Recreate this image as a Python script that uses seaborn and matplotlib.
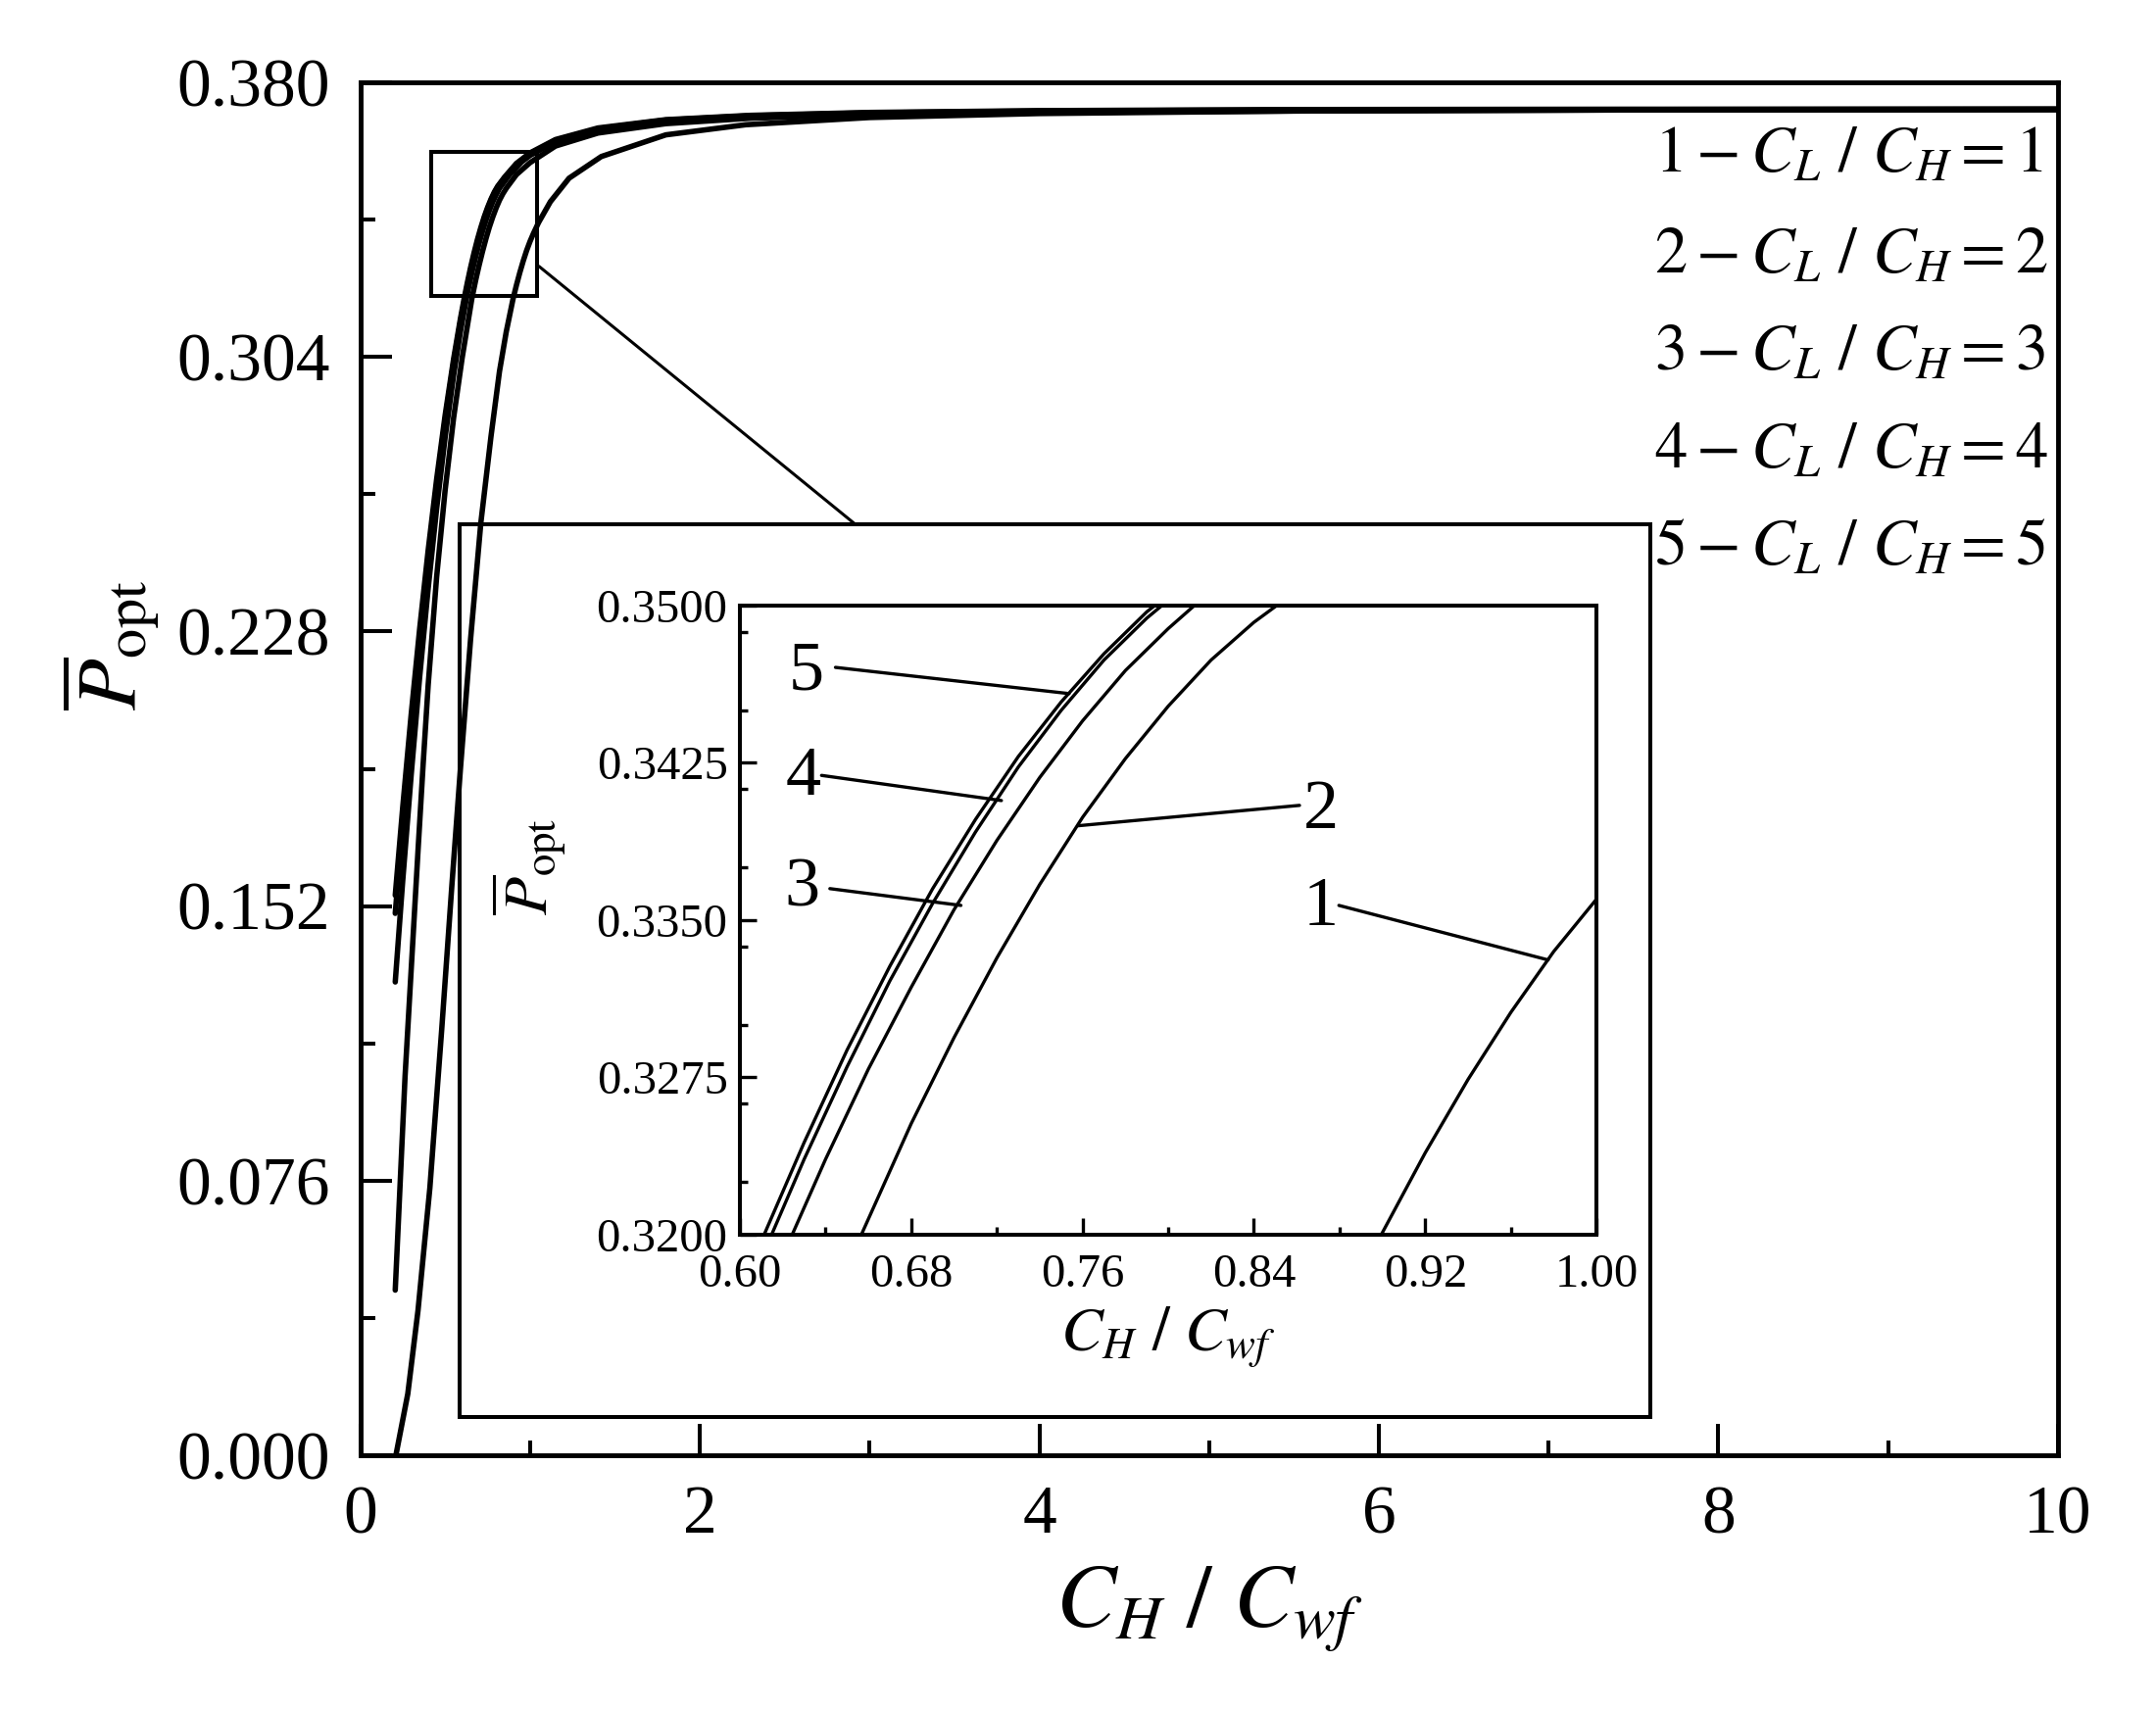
import numpy as np
import pandas as pd
import seaborn as sns
import matplotlib
matplotlib.use('Agg')
import matplotlib.pyplot as plt
from matplotlib.patches import Rectangle
from matplotlib.ticker import MultipleLocator

# values: x = C_H/C_wf, y = P_opt, one curve per C_L/C_H
ratios = [1, 2, 3, 4, 5]

x1 = [0.21, 0.28, 0.34, 0.41, 0.48, 0.54, 0.59, 0.65, 0.71, 0.77, 0.82, 0.86, 0.8995, 0.92, 0.94,
      0.96, 0.98, 1.00, 1.02, 1.05, 1.12, 1.23, 1.42, 1.80, 2.27, 3.00, 4.00, 5.50, 7.50, 10.0]
y1 = [0.000, 0.017, 0.040, 0.074, 0.118, 0.158, 0.190, 0.226, 0.258, 0.282, 0.300, 0.311, 0.3200,
      0.3239, 0.3274, 0.3306, 0.3335, 0.3360, 0.3382, 0.3412, 0.3470, 0.3535, 0.3595, 0.3655,
      0.3683, 0.3703, 0.3714, 0.3721, 0.3724, 0.3725]

x2 = [0.206, 0.264, 0.341, 0.37, 0.40, 0.45, 0.50, 0.55, 0.60, 0.6567, 0.68, 0.70, 0.72, 0.74,
      0.76, 0.78, 0.80, 0.82, 0.84, 0.86, 0.92, 1.00, 1.15, 1.40, 1.80, 2.30, 3.00, 4.00, 5.50,
      7.50, 10.0]
y2 = [0.0457, 0.105, 0.168, 0.191, 0.2132, 0.2432, 0.2672, 0.2872, 0.3037, 0.3200, 0.3253, 0.3294,
      0.3332, 0.3367, 0.3399, 0.3427, 0.3452, 0.3474, 0.3492, 0.3507, 0.3545, 0.3578, 0.3624,
      0.3660, 0.3686, 0.3701, 0.3711, 0.3717, 0.3721, 0.3724, 0.3725]

x3 = [0.206, 0.25, 0.30, 0.35, 0.40, 0.45, 0.50, 0.55, 0.59, 0.6244, 0.64, 0.66, 0.68, 0.70, 0.72,
      0.74, 0.76, 0.78, 0.80, 0.82, 0.88, 0.95, 1.00, 1.15, 1.40, 1.80, 2.30, 3.00, 4.00, 5.50,
      7.50, 10.0]
y3 = [0.131, 0.1590, 0.1884, 0.2155, 0.2400, 0.2621, 0.2818, 0.2990, 0.3110, 0.3200, 0.3236,
      0.3279, 0.3318, 0.3355, 0.3388, 0.3418, 0.3445, 0.3469, 0.3489, 0.3507, 0.3545, 0.3580,
      0.3598, 0.3636, 0.3668, 0.3693, 0.3706, 0.3714, 0.3720, 0.3723, 0.3725, 0.3726]

x4 = [0.206, 0.25, 0.30, 0.35, 0.40, 0.45, 0.50, 0.55, 0.59, 0.6148, 0.63, 0.65, 0.67, 0.69, 0.71,
      0.73, 0.75, 0.77, 0.79, 0.81, 0.85, 0.92, 1.00, 1.15, 1.40, 1.80, 2.30, 3.00, 4.00, 5.50,
      7.50, 10.0]
y4 = [0.150, 0.1751, 0.2016, 0.2260, 0.2483, 0.2685, 0.2866, 0.3025, 0.3138, 0.3200, 0.3236,
      0.3280, 0.3321, 0.3358, 0.3392, 0.3423, 0.3450, 0.3474, 0.3494, 0.3511, 0.3536, 0.3574,
      0.3603, 0.3640, 0.3672, 0.3696, 0.3708, 0.3716, 0.3721, 0.3724, 0.3725, 0.3726]

x5 = [0.206, 0.25, 0.30, 0.35, 0.40, 0.45, 0.50, 0.55, 0.59, 0.6113, 0.63, 0.65, 0.67, 0.69, 0.71,
      0.73, 0.75, 0.77, 0.79, 0.81, 0.85, 0.92, 1.00, 1.15, 1.40, 1.80, 2.30, 3.00, 4.00, 5.50,
      7.50, 10.0]
y5 = [0.155, 0.1793, 0.2051, 0.2288, 0.2505, 0.2702, 0.2879, 0.3035, 0.3146, 0.3200, 0.3244,
      0.3288, 0.3328, 0.3365, 0.3398, 0.3428, 0.3454, 0.3477, 0.3497, 0.3513, 0.3538, 0.3576,
      0.3605, 0.3642, 0.3674, 0.3697, 0.3709, 0.3717, 0.3722, 0.3725, 0.3726, 0.3726]

xticks_main = [0, 2, 4, 6, 8, 10]
yticks_main = [0.000, 0.076, 0.152, 0.228, 0.304, 0.380]
xticks_inset = [0.60, 0.68, 0.76, 0.84, 0.92, 1.00]
yticks_inset = [0.3200, 0.3275, 0.3350, 0.3425, 0.3500]

frames = []
for r, xs, ys in zip(ratios, [x1, x2, x3, x4, x5], [y1, y2, y3, y4, y5]):
    frames.append(pd.DataFrame({'x': xs, 'y': ys, 'ratio': r}))
df = pd.concat(frames, ignore_index=True)

sns.set_theme(style='ticks')
plt.rcParams['font.family'] = ['Liberation Serif', 'DejaVu Serif']
plt.rcParams['mathtext.fontset'] = 'stix'

black = {r: 'black' for r in ratios}

fig = plt.figure(figsize=(22, 17.46), dpi=100)
fig.patch.set_facecolor('white')

# ---- main axes
ax = fig.add_axes([0.1671, 0.1495, 0.7874, 0.8023])
ax.set_facecolor('white')
sns.lineplot(data=df, x='x', y='y', hue='ratio', palette=black, estimator=None,
             sort=False, legend=False, lw=4.0, ax=ax, zorder=3)
ax.set_xlim(0, 10)
ax.set_ylim(0, 0.38)
ax.set_xticks(xticks_main)
ax.set_xticklabels([str(v) for v in xticks_main])
ax.xaxis.set_minor_locator(MultipleLocator(1))
ax.set_yticks(yticks_main)
ax.set_yticklabels([f'{v:.3f}' for v in yticks_main])
ax.yaxis.set_minor_locator(MultipleLocator(0.038))
ax.tick_params(which='major', direction='in', length=23, width=2.9, labelsize=50,
               pad=22, top=False, right=False, color='black', labelcolor='black')
ax.tick_params(which='minor', direction='in', length=11, width=2.9, top=False, right=False,
               color='black')
for s in ax.spines.values():
    s.set_linewidth(3.5)
    s.set_color('black')
ax.set_xlabel(r'$C_H\ /\ C_{wf}$', fontsize=66, labelpad=12, color='black')
ax.set_ylabel(r'$\overline{P}_{\rm opt}$', fontsize=62, color='black')
ax.yaxis.set_label_coords(-0.117, 0.59)

# zoom box, connector and inset panel
ax.add_patch(Rectangle((0.418, 0.321), 0.625, 0.0397, fill=False, ec='black', lw=2.9, zorder=4))
ax.plot([1.053, 2.916], [0.3291, 0.2577], color='black', lw=2.2, zorder=4)
ax.add_patch(Rectangle((0.583, 0.0107), 7.017, 0.2471, fc='white', ec='black', lw=2.9, zorder=2))

legend_y = [0.3598, 0.332, 0.305, 0.278, 0.251]
for r, yy in zip(ratios, legend_y):
    ax.text(7.62, yy, rf'${r}-C_L\ /\ C_H={r}$', fontsize=48, va='center', ha='left',
            color='black', zorder=5)

# ---- inset axes
axi = fig.add_axes([0.3432, 0.2784, 0.3973, 0.3677])
axi.set_facecolor('white')
sns.lineplot(data=df, x='x', y='y', hue='ratio', palette=black, estimator=None,
             sort=False, legend=False, lw=2.4, ax=axi)
axi.set_xlim(0.60, 1.00)
axi.set_ylim(0.32, 0.35)
axi.set_xticks(xticks_inset)
axi.set_xticklabels([f'{v:.2f}' for v in xticks_inset])
axi.xaxis.set_minor_locator(MultipleLocator(0.04))
axi.set_yticks(yticks_inset)
axi.set_yticklabels([f'{v:.4f}' for v in yticks_inset])
axi.yaxis.set_minor_locator(MultipleLocator(0.00375))
axi.tick_params(which='major', direction='in', length=12, width=2.4, labelsize=35,
                pad=9, top=False, right=False, color='black', labelcolor='black')
axi.tick_params(axis='x', which='major', pad=14)
axi.tick_params(which='minor', direction='in', length=6, width=2.4, top=False, right=False,
                color='black')
for s in axi.spines.values():
    s.set_linewidth(2.9)
    s.set_color('black')
axi.set_xlabel(r'$C_H\ /\ C_{wf}$', fontsize=46, labelpad=6, color='black')
axi.set_ylabel(r'$\overline{P}_{\rm opt}$', fontsize=46, color='black')
axi.yaxis.set_label_coords(-0.20, 0.585)

# curve numbers with pointer lines
label_pos = {5: (0.631, 0.3468), 4: (0.6297, 0.3418), 3: (0.6289, 0.3365),
             2: (0.8713, 0.3402), 1: (0.871, 0.3356)}
pointer = {5: ((0.6446, 0.34705), (0.7537, 0.3458)),
           4: ((0.6381, 0.3419), (0.7221, 0.3407)),
           3: ((0.642, 0.3365), (0.7032, 0.3357)),
           2: ((0.8613, 0.34047), (0.758, 0.3395)),
           1: ((0.8797, 0.3357), (0.9774, 0.3331))}
for r in ratios:
    lx, ly = label_pos[r]
    axi.text(lx, ly, str(r), fontsize=52, ha='center', va='center', color='black')
    (a, b), (c, d) = pointer[r]
    axi.plot([a, c], [b, d], color='black', lw=2.4)

fig.savefig('out.png', dpi=100, facecolor='white')
